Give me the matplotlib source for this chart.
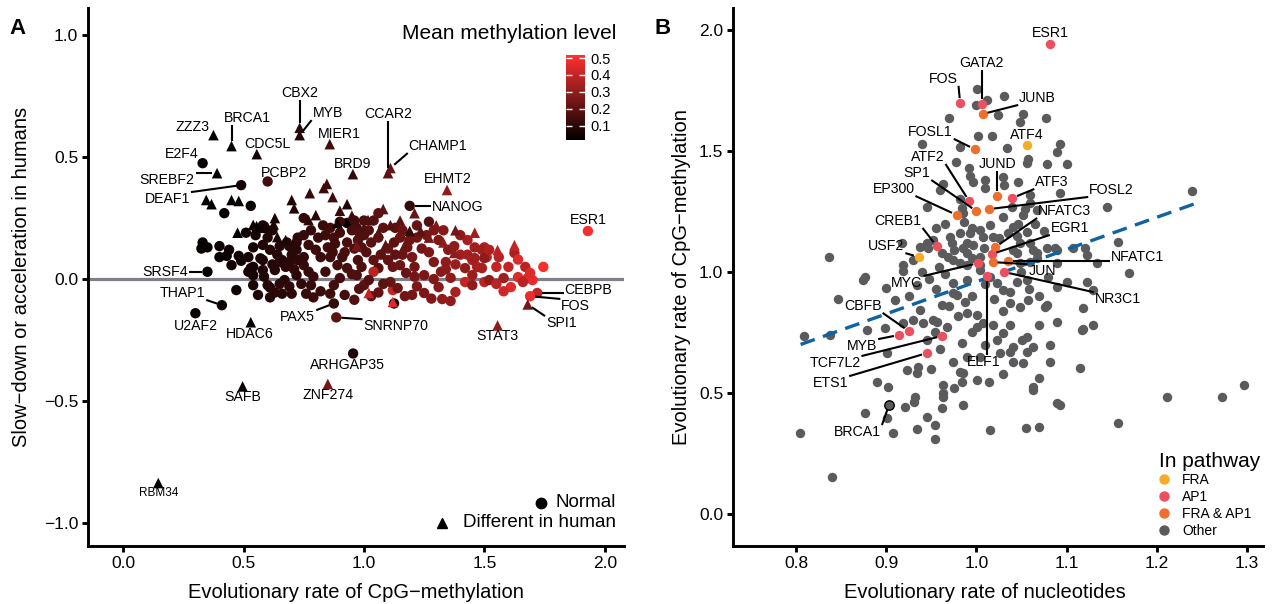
import numpy as np
import matplotlib
matplotlib.use("Agg")
import matplotlib.pyplot as plt
from matplotlib.colors import LinearSegmentedColormap, Normalize
from matplotlib.cm import ScalarMappable
from matplotlib.lines import Line2D

plt.rcParams['font.family'] = ['Liberation Sans', 'DejaVu Sans']

# ---------------- panel A data ----------------
# labelled genes: rate of CpG-methylation, slow-down/acceleration, mean methylation, different in human
a_lab_gene = ['ZZZ3', 'BRCA1', 'CDC5L', 'CBX2', 'MYB', 'MIER1', 'E2F4', 'SREBF2', 'DEAF1', 'PCBP2',
              'BRD9', 'SRSF4', 'THAP1', 'U2AF2', 'HDAC6', 'PAX5', 'SNRNP70', 'ARHGAP35', 'SAFB', 'ZNF274',
              'CCAR2', 'CHAMP1', 'EHMT2', 'NANOG', 'ESR1', 'CEBPB', 'FOS', 'SPI1', 'STAT3', 'RBM34']
a_lab_rate = [0.375, 0.45, 0.555, 0.733, 0.733, 0.858, 0.33, 0.39, 0.49, 0.60,
              0.954, 0.35, 0.41, 0.30, 0.53, 0.875, 0.885, 0.955, 0.496, 0.85,
              1.10, 1.11, 1.345, 1.19, 1.93, 1.72, 1.69, 1.68, 1.555, 0.146]
a_lab_accel = [0.59, 0.545, 0.512, 0.62, 0.59, 0.553, 0.475, 0.434, 0.385, 0.40,
               0.43, 0.03, -0.107, -0.14, -0.177, -0.10, -0.157, -0.305, -0.44, -0.43,
               0.434, 0.455, 0.365, 0.30, 0.197, -0.057, -0.07, -0.104, -0.19, -0.836]
a_lab_meth = [0.02, 0.02, 0.05, 0.10, 0.08, 0.15, 0.03, 0.02, 0.05, 0.15,
              0.12, 0.03, 0.04, 0.03, 0.03, 0.12, 0.20, 0.08, 0.03, 0.25,
              0.20, 0.22, 0.30, 0.12, 0.50, 0.40, 0.48, 0.25, 0.30, 0.03]
a_lab_human = [1, 1, 1, 1, 1, 1, 0, 1, 0, 0,
               1, 0, 0, 0, 1, 0, 0, 0, 1, 1,
               1, 1, 1, 0, 0, 0, 0, 1, 1, 1]

# other genes, normal
a_norm_rate = [0.53, 0.42, 0.33, 0.35, 0.325, 0.40, 0.44, 0.43, 0.40, 0.48, 0.49, 0.52, 0.54, 0.54, 0.52,
               0.57, 0.51, 0.58, 0.55, 0.60, 0.62, 0.58, 0.61, 0.65, 0.69, 0.72, 0.58, 0.66, 0.675, 0.58,
               0.585, 0.60, 0.47, 0.54, 0.56, 0.61, 0.63, 0.66, 0.70, 0.61, 0.75, 0.93, 0.96, 1.00, 1.04,
               0.90, 0.97, 1.06, 1.27, 0.68, 0.725, 0.75, 0.77, 0.81, 0.84, 0.875, 0.90, 0.93, 0.85, 0.88,
               0.92, 0.96, 0.975, 1.00, 1.03, 1.06, 1.10, 1.125, 1.15, 1.18, 1.20, 1.24, 1.27, 1.31, 1.35,
               1.43, 1.46, 1.50, 1.51, 1.375, 1.49, 0.45, 0.53, 0.54, 0.65, 0.69, 0.725, 0.75, 0.75, 0.77,
               0.79, 0.86, 0.89, 0.93, 0.975, 0.99, 1.04, 1.06, 1.10, 1.12, 1.15, 1.175, 1.21, 1.25, 1.29,
               1.32, 1.36, 1.42, 1.45, 1.49, 1.04, 1.42, 0.78, 0.82, 0.79, 0.875, 0.92, 0.96, 1.00, 1.06,
               1.12, 1.11, 1.14, 1.125, 1.20, 1.25, 1.31, 1.38, 1.45, 1.50, 1.325, 1.45, 1.625, 1.64, 1.67,
               1.745, 1.64, 1.68, 1.70, 1.58, 1.61, 1.52, 1.66, 1.50, 1.46, 1.52, 1.69, 1.13, 1.22, 1.40,
               0.84, 0.90, 0.97, 1.02, 0.72, 0.67, 0.63,
               0.95, 0.98, 1.02, 1.08, 1.16, 1.19, 1.22, 1.26, 1.29, 1.33, 1.34, 1.38, 1.40, 1.43, 1.47,
               1.55, 1.56, 1.60, 1.58, 1.55, 1.36, 1.28, 1.22, 1.17, 1.08, 1.03, 0.98, 0.95, 0.91, 0.87,
               0.82, 0.80, 0.78, 0.83, 0.86, 0.72, 0.70, 0.64, 0.62, 0.71, 0.74, 0.69, 0.65, 0.76, 0.86,
               1.16, 1.13, 1.07, 1.01, 0.99, 1.21, 1.29, 1.34]
a_norm_accel = [0.30, 0.27, 0.15, 0.13, 0.125, 0.135, 0.12, 0.095, 0.09, 0.095, 0.075, 0.09, 0.13, 0.05, 0.03,
                0.085, 0.19, 0.22, 0.18, 0.17, 0.20, 0.14, 0.12, 0.135, 0.135, 0.15, 0.078, 0.078, 0.05, 0.037,
                0.01, -0.025, -0.045, -0.025, -0.065, -0.035, -0.055, -0.06, -0.06, -0.075, 0.25, 0.23, 0.24, 0.24, 0.24,
                0.235, 0.21, 0.27, 0.235, 0.15, 0.17, 0.18, 0.14, 0.17, 0.18, 0.17, 0.19, 0.15, 0.13, 0.145,
                0.11, 0.125, 0.16, 0.18, 0.15, 0.17, 0.125, 0.15, 0.17, 0.13, 0.09, 0.125, 0.11, 0.16, 0.12,
                0.16, 0.13, 0.13, 0.09, 0.135, 0.12, 0.057, 0.045, 0.016, 0.07, 0.07, 0.078, 0.09, 0.057, 0.03,
                0.01, 0.09, 0.057, 0.045, 0.078, 0.05, 0.078, 0.045, 0.078, 0.05, 0.057, 0.025, 0.05, 0.016, 0.07,
                0.03, 0.005, 0.045, 0.016, 0.045, 0.03, -0.012, -0.025, -0.05, -0.075, -0.025, -0.065, -0.085, -0.025, -0.055,
                -0.045, -0.012, -0.037, -0.10, -0.065, -0.057, -0.033, -0.053, -0.025, -0.012, -0.082, 0.078, 0.107, 0.08, 0.05,
                0.05, 0.008, 0.004, -0.004, 0.004, -0.033, -0.004, -0.012, 0.086, 0.086, 0.12, 0.025, 0.21, 0.22, 0.18,
                0.03, 0.004, 0.016, -0.004, 0.016, -0.004, 0.037,
                0.20, 0.19, 0.20, 0.21, 0.20, 0.16, 0.17, 0.18, 0.20, 0.20, 0.07, 0.06, 0.10, 0.10, 0.05,
                0.05, 0.09, 0.05, -0.05, -0.02, -0.09, -0.08, -0.03, -0.07, -0.02, -0.07, -0.04, 0.02, 0.09, 0.11,
                0.09, 0.12, 0.20, 0.22, 0.21, 0.12, 0.10, 0.10, 0.06, 0.04, -0.02, -0.03, -0.02, -0.06, -0.06,
                0.10, 0.10, 0.10, 0.11, 0.13, 0.01, 0.0, 0.04]
a_norm_meth = [0.04, 0.03, 0.03, 0.03, 0.03, 0.04, 0.04, 0.04, 0.03, 0.05, 0.05, 0.06, 0.06, 0.06, 0.06,
               0.07, 0.05, 0.07, 0.06, 0.08, 0.08, 0.08, 0.09, 0.09, 0.10, 0.10, 0.08, 0.10, 0.10, 0.08,
               0.08, 0.09, 0.05, 0.07, 0.08, 0.09, 0.10, 0.10, 0.11, 0.09, 0.12, 0.02, 0.15, 0.17, 0.18,
               0.14, 0.15, 0.20, 0.18, 0.11, 0.11, 0.12, 0.13, 0.13, 0.14, 0.15, 0.14, 0.16, 0.15, 0.14,
               0.16, 0.17, 0.18, 0.17, 0.19, 0.20, 0.22, 0.20, 0.22, 0.23, 0.25, 0.24, 0.26, 0.27, 0.28,
               0.35, 0.33, 0.36, 0.40, 0.30, 0.33, 0.05, 0.06, 0.06, 0.09, 0.10, 0.11, 0.11, 0.12, 0.12,
               0.13, 0.14, 0.15, 0.16, 0.16, 0.17, 0.20, 0.19, 0.21, 0.22, 0.23, 0.22, 0.24, 0.26, 0.27,
               0.28, 0.30, 0.30, 0.32, 0.34, 0.38, 0.40, 0.12, 0.13, 0.13, 0.15, 0.15, 0.18, 0.20, 0.21,
               0.40, 0.22, 0.23, 0.05, 0.25, 0.26, 0.28, 0.35, 0.30, 0.38, 0.30, 0.35, 0.35, 0.45, 0.38,
               0.50, 0.45, 0.45, 0.47, 0.33, 0.45, 0.30, 0.38, 0.30, 0.33, 0.36, 0.45, 0.20, 0.22, 0.30,
               0.14, 0.15, 0.17, 0.18, 0.10, 0.09, 0.09,
               0.16, 0.17, 0.18, 0.20, 0.22, 0.23, 0.24, 0.25, 0.26, 0.28, 0.30, 0.32, 0.33, 0.34, 0.35,
               0.40, 0.38, 0.40, 0.42, 0.38, 0.30, 0.27, 0.26, 0.24, 0.20, 0.20, 0.18, 0.17, 0.15, 0.14,
               0.13, 0.13, 0.12, 0.13, 0.14, 0.10, 0.10, 0.09, 0.09, 0.11, 0.11, 0.11, 0.10, 0.12, 0.14,
               0.22, 0.21, 0.20, 0.18, 0.17, 0.25, 0.27, 0.29]

# other genes, different in human
a_diff_rate = [0.345, 0.367, 0.45, 0.48, 0.70, 0.71, 0.775, 0.833, 0.846, 0.87, 0.93, 0.63, 0.554, 0.475, 0.58,
               0.60, 0.80, 0.77, 1.08, 1.017, 1.19, 1.235, 1.38, 1.11, 0.89, 0.675, 0.64, 1.555, 1.625, 1.375,
               1.02, 1.12, 0.97, 1.09, 1.17,
               0.54, 0.625, 1.00, 1.06, 1.15, 1.27, 1.30, 0.90, 0.95, 1.21, 1.46, 1.33]
a_diff_accel = [0.324, 0.307, 0.324, 0.32, 0.324, 0.29, 0.352, 0.373, 0.39, 0.336, 0.307, 0.25, 0.217, 0.19, 0.21,
                0.213, 0.262, 0.242, 0.287, 0.242, 0.197, 0.197, 0.20, 0.221, 0.23, 0.16, 0.172, 0.119, 0.139, 0.107,
                -0.057, -0.094, 0.135, 0.14, 0.14,
                0.222, 0.224, 0.21, 0.19, 0.24, 0.17, 0.22, 0.28, 0.26, 0.27, 0.19, 0.15]
a_diff_meth = [0.02, 0.02, 0.03, 0.03, 0.08, 0.08, 0.12, 0.13, 0.14, 0.14, 0.08, 0.06, 0.03, 0.02, 0.05,
               0.06, 0.10, 0.11, 0.20, 0.17, 0.12, 0.20, 0.25, 0.18, 0.05, 0.07, 0.07, 0.38, 0.40, 0.30,
               0.40, 0.45, 0.25, 0.20, 0.22,
               0.04, 0.07, 0.17, 0.19, 0.20, 0.25, 0.27, 0.12, 0.14, 0.22, 0.33, 0.30]

# ---------------- panel B data ----------------
b_lab_gene = ['ESR1', 'GATA2', 'JUNB', 'FOS', 'FOSL1', 'ATF4', 'ATF2', 'JUND', 'SP1', 'ATF3', 'FOSL2',
              'EP300', 'CREB1', 'USF2', 'NFATC3', 'EGR1', 'JUN', 'NFATC1', 'MYC', 'ELF1', 'NR3C1',
              'CBFB', 'MYB', 'TCF7L2', 'ETS1', 'BRCA1']
b_lab_nuc = [1.082, 1.006, 1.007, 0.982, 0.998, 1.056, 0.992, 1.023, 1.0, 1.04, 1.014,
             0.978, 0.956, 0.936, 1.021, 1.017, 1.018, 1.035, 1.002, 1.012, 1.031,
             0.925, 0.914, 0.962, 0.945, 0.903]
b_lab_cpg = [1.942, 1.694, 1.653, 1.698, 1.508, 1.525, 1.293, 1.314, 1.252, 1.306, 1.26,
             1.236, 1.107, 1.062, 1.103, 1.074, 1.041, 1.045, 1.037, 0.983, 1.0,
             0.756, 0.74, 0.736, 0.665, 0.45]
b_lab_path = ['AP1', 'AP1', 'FRA & AP1', 'AP1', 'FRA & AP1', 'FRA', 'AP1', 'FRA & AP1', 'FRA & AP1', 'AP1', 'FRA & AP1',
              'FRA & AP1', 'AP1', 'FRA', 'FRA & AP1', 'AP1', 'FRA & AP1', 'FRA & AP1', 'AP1', 'AP1', 'AP1',
              'AP1', 'AP1', 'AP1', 'AP1', 'Other']

b_other_nuc = [1.001, 1.012, 1.0, 1.031, 1.024, 1.052, 1.048, 1.077, 0.97, 1.002, 1.017, 0.982, 1.034, 0.94, 1.093,
               1.09, 1.057, 1.056, 1.078, 1.1, 0.977, 0.992, 0.996, 0.993, 1.01, 1.03, 1.031, 1.046, 1.01, 0.982,
               0.963, 1.059, 1.054, 1.039, 1.03, 0.984, 0.986, 0.995, 1.004, 1.015, 1.018, 1.041, 1.056, 0.971, 0.973,
               0.952, 0.946, 0.969, 0.99, 0.982, 1.004, 1.041, 1.067, 1.078, 1.087, 0.837, 0.876, 0.919, 0.919, 0.96,
               0.945, 1.059, 1.052, 0.985, 1.046, 1.093, 1.067, 1.145, 0.993, 1.007, 0.945, 0.996, 1.004, 1.048, 1.067,
               1.059, 1.089, 1.107, 1.12, 1.134, 0.809, 0.804, 0.84, 1.157, 1.055, 1.07, 1.297, 1.272, 1.239, 1.169,
               1.157, 1.211, 1.115, 1.129, 1.118, 1.118, 0.847, 0.9, 0.91, 0.838, 0.879, 0.899, 0.901, 0.89, 0.902,
               0.876, 0.901, 0.908, 0.934, 0.932, 0.921, 0.945, 0.954, 0.934, 0.954, 0.963, 0.963, 0.962, 0.985, 1.015,
               0.974, 0.985, 1.001, 1.014, 0.984, 1.001, 1.018, 1.037, 1.023, 1.037, 1.051, 1.056, 1.052, 1.063, 1.07,
               1.093, 1.082, 1.089, 1.076, 1.057, 1.048, 1.037, 1.056, 1.063, 1.1, 1.123, 1.129, 0.962, 0.937, 0.934,
               0.978, 0.974, 0.99, 0.987, 1.001, 0.952, 0.941, 0.954, 0.919, 0.93, 0.918, 0.937, 0.962, 0.982, 0.99,
               0.974, 0.99, 1.004, 1.015, 1.023, 1.029, 1.048, 1.045, 1.089, 0.874, 0.974, 0.995, 1.037, 1.078, 1.123,
               1.117, 1.041, 1.063, 1.082, 1.09, 0.963, 0.931, 0.923, 0.935, 0.956, 0.967, 0.99, 1.007, 1.03, 1.056,
               1.026, 0.99, 0.984, 1.041, 1.004, 0.982, 1.063,
               0.955, 0.965, 0.975, 0.985, 0.995, 1.008, 1.025, 1.035, 1.045, 1.06, 1.065, 1.075, 0.958, 0.965, 0.948,
               0.955, 0.97, 0.98, 0.995, 1.01, 1.02, 1.03, 1.045, 1.05, 1.058, 1.07, 1.08, 1.09, 0.93, 0.94,
               0.925, 0.945, 0.96, 1.01, 1.07, 0.975, 1.03, 0.95]
b_other_cpg = [1.756, 1.711, 1.69, 1.727, 1.649, 1.653, 1.62, 1.636, 1.636, 1.562, 1.562, 1.517, 1.512, 1.529, 1.529,
               1.496, 1.467, 1.45, 1.446, 1.446, 1.455, 1.43, 1.372, 1.397, 1.38, 1.393, 1.36, 1.372, 1.347, 1.302,
               1.364, 1.285, 1.26, 1.269, 1.228, 1.264, 1.207, 1.182, 1.174, 1.194, 1.145, 1.186, 1.165, 1.145, 1.12,
               1.132, 1.099, 1.062, 1.079, 1.037, 1.062, 1.091, 1.058, 1.099, 1.099, 1.062, 0.979, 1.029, 1.004, 1.339,
               1.269, 1.318, 1.235, 1.244, 1.2, 1.326, 1.256, 1.269, 1.161, 1.145, 1.12, 1.112, 1.029, 1.12, 1.079,
               1.041, 1.037, 1.099, 1.099, 1.037, 0.736, 0.335, 0.153, 0.376, 0.355, 0.36, 0.533, 0.483, 1.335, 0.996,
               1.124, 0.483, 0.603, 0.781, 0.764, 0.851, 0.888, 0.934, 0.884, 0.74, 0.76, 0.769, 0.665, 0.545, 0.525,
               0.417, 0.397, 0.335, 0.583, 0.483, 0.442, 0.401, 0.368, 0.351, 0.31, 0.483, 0.533, 0.438, 0.45, 0.347,
               0.628, 0.583, 0.554, 0.545, 0.707, 0.773, 0.781, 0.781, 0.719, 0.669, 0.719, 0.669, 0.624, 0.525, 0.562,
               0.45, 0.628, 0.793, 0.855, 0.884, 0.855, 0.917, 0.967, 1.091, 0.959, 1.07, 0.926, 0.864, 0.843, 0.946,
               0.905, 0.955, 0.967, 0.876, 0.822, 0.802, 0.789, 0.752, 0.789, 0.802, 1.12, 1.103, 1.079, 1.161, 1.12,
               1.05, 1.029, 1.008, 0.979, 0.955, 0.926, 1.037, 1.079, 1.091, 0.967, 0.913, 0.752, 0.872, 0.864, 0.959,
               0.76, 0.628, 0.512, 0.698, 0.459, 0.5, 0.463, 0.595, 0.607, 0.793, 0.773, 0.831, 0.789, 0.748, 0.731,
               0.665, 0.649, 0.545, 0.69, 0.649, 0.587, 0.69,
               1.18, 1.2, 1.09, 1.1, 1.06, 1.1, 1.14, 1.16, 1.15, 1.12, 1.2, 1.17, 1.02, 0.99, 0.97,
               0.93, 0.86, 0.82, 0.9, 0.95, 0.89, 0.84, 0.96, 1.0, 0.93, 0.9, 0.98, 0.94, 1.05, 1.0,
               0.9, 0.72, 0.68, 0.7, 0.78, 0.52, 0.58, 0.6]

# dashed trend line (slope, intercept, x range)
b_fit_slope = 1.33
b_fit_icpt = -0.37
b_fit_range = [0.805, 1.245]

# ---------------- label layout ----------------
a_label_xy = {'ZZZ3': (0.29, 0.623), 'BRCA1': (0.517, 0.66), 'CDC5L': (0.60, 0.553), 'CBX2': (0.733, 0.762),
              'MYB': (0.85, 0.68), 'MIER1': (0.90, 0.594), 'E2F4': (0.242, 0.512), 'SREBF2': (0.183, 0.406),
              'DEAF1': (0.183, 0.328), 'PCBP2': (0.667, 0.434), 'BRD9': (0.954, 0.471), 'SRSF4': (0.175, 0.029),
              'THAP1': (0.246, -0.057), 'U2AF2': (0.30, -0.193), 'HDAC6': (0.525, -0.225), 'PAX5': (0.725, -0.156),
              'SNRNP70': (1.133, -0.193), 'ARHGAP35': (0.933, -0.352), 'SAFB': (0.496, -0.484),
              'ZNF274': (0.85, -0.475), 'CCAR2': (1.10, 0.676), 'CHAMP1': (1.308, 0.545), 'EHMT2': (1.346, 0.41),
              'NANOG': (1.39, 0.295), 'ESR1': (1.93, 0.242), 'CEBPB': (1.933, -0.045), 'FOS': (1.88, -0.11),
              'SPI1': (1.82, -0.18), 'STAT3': (1.555, -0.234), 'RBM34': (0.146, -0.877)}
a_seg = {'BRCA1', 'CBX2', 'MYB', 'SREBF2', 'DEAF1', 'SRSF4', 'THAP1', 'PAX5', 'SNRNP70',
         'CCAR2', 'CHAMP1', 'NANOG', 'CEBPB', 'FOS', 'SPI1'}

b_label_xy = {'ESR1': (1.082, 1.988), 'GATA2': (1.006, 1.864), 'JUNB': (1.068, 1.719), 'FOS': (0.963, 1.798),
              'FOSL1': (0.949, 1.579), 'ATF4': (1.056, 1.566), 'ATF2': (0.946, 1.475), 'JUND': (1.023, 1.446),
              'SP1': (0.934, 1.409), 'ATF3': (1.084, 1.372), 'FOSL2': (1.15, 1.339), 'EP300': (0.908, 1.343),
              'NFATC3': (1.098, 1.252), 'CREB1': (0.913, 1.211), 'EGR1': (1.104, 1.182), 'USF2': (0.90, 1.107),
              'NFATC1': (1.179, 1.062), 'JUN': (1.073, 1.004), 'MYC': (0.923, 0.955), 'NR3C1': (1.157, 0.888),
              'CBFB': (0.874, 0.86), 'MYB': (0.873, 0.694), 'TCF7L2': (0.843, 0.624), 'ELF1': (1.008, 0.628),
              'ETS1': (0.838, 0.541), 'BRCA1': (0.868, 0.339)}
b_seg = set(b_lab_gene) - {'ESR1', 'ATF4'}

path_colors = {'FRA': '#F8AA2A', 'AP1': '#EC5060', 'FRA & AP1': '#EE6F2C', 'Other': '#5B5B5D'}

W, H = 1274, 604
fig = plt.figure(figsize=(W / 100, H / 100), dpi=100)
axA = fig.add_axes([88 / W, 1 - 546 / H, (624 - 88) / W, (546 - 8) / H])
axB = fig.add_axes([733 / W, 1 - 546 / H, (1263 - 733) / W, (546 - 8) / H])

for ax in (axA, axB):
    for s in ('top', 'right'):
        ax.spines[s].set_visible(False)
    for s in ('left', 'bottom'):
        ax.spines[s].set_linewidth(2.1)
    ax.tick_params(direction='out', length=4, width=2.1, labelsize=12.5, colors='black', pad=3)


def add_labels(ax, names, xs, ys, pos, seg, size=10.2):
    texts = []
    for n, x, y in zip(names, xs, ys):
        tx, ty = pos[n]
        fs = 8.5 if n == 'RBM34' and ax is axA else size
        t = ax.text(tx, ty, n, ha='center', va='center', fontsize=fs, zorder=6)
        texts.append((t, x, y, n in seg))
    fig.canvas.draw()
    r = fig.canvas.get_renderer()
    inv = ax.transData.inverted()
    for t, x, y, s in texts:
        if not s:
            continue
        bb = t.get_window_extent(r).expanded(1.0, 0.85)
        px, py = ax.transData.transform((x, y))
        cx = min(max(px, bb.x0 - 1), bb.x1 + 1)
        cy = min(max(py, bb.y0 - 1), bb.y1 + 1)
        d = np.hypot(px - cx, py - cy)
        if d < 1:
            continue
        ex = px - (px - cx) / d * 5
        ey = py - (py - cy) / d * 5
        p0 = inv.transform((cx, cy))
        p1 = inv.transform((ex, ey))
        ax.plot([p0[0], p1[0]], [p0[1], p1[1]], color='black', lw=1.5, zorder=5,
                solid_capstyle='butt')


# ---------------- panel A ----------------
cmap = LinearSegmentedColormap.from_list('meth', ['#000000', '#FF3030'])
norm = Normalize(0.016, 0.518)

axA.set_xlim(-0.146, 2.08)
axA.set_ylim(-1.094, 1.111)
axA.axhline(0, color='#7F7F85', lw=2.3, zorder=1)
axA.scatter(a_norm_rate, a_norm_accel, c=a_norm_meth, cmap=cmap, norm=norm, marker='o', s=56, lw=0, zorder=2)
axA.scatter(a_diff_rate, a_diff_accel, c=a_diff_meth, cmap=cmap, norm=norm, marker='^', s=58, lw=0, zorder=2)
lab_h = np.array(a_lab_human, dtype=bool)
lr, la, lm = np.array(a_lab_rate), np.array(a_lab_accel), np.array(a_lab_meth)
axA.scatter(lr[~lab_h], la[~lab_h], c=lm[~lab_h], cmap=cmap, norm=norm, marker='o', s=56, lw=0, zorder=3)
axA.scatter(lr[lab_h], la[lab_h], c=lm[lab_h], cmap=cmap, norm=norm, marker='^', s=58, lw=0, zorder=3)

axA.set_xticks([0, 0.5, 1.0, 1.5, 2.0])
axA.set_xticklabels(['0.0', '0.5', '1.0', '1.5', '2.0'])
axA.set_yticks([-1.0, -0.5, 0.0, 0.5, 1.0])
axA.set_yticklabels(['\u22121.0', '\u22120.5', '0.0', '0.5', '1.0'])

add_labels(axA, a_lab_gene, a_lab_rate, a_lab_accel, a_label_xy, a_seg)

# colour bar legend
axA.text(0.985, 0.953, 'Mean methylation level', transform=axA.transAxes, ha='right', va='center', fontsize=15)
cax = fig.add_axes([566 / W, 1 - 140 / H, 19 / W, 85 / H])
cb = fig.colorbar(ScalarMappable(norm=norm, cmap=cmap), cax=cax, ticks=[0.1, 0.2, 0.3, 0.4, 0.5])
cb.outline.set_visible(False)
cb.set_ticklabels(['0.1', '0.2', '0.3', '0.4', '0.5'])
cax.yaxis.set_ticks_position('both')
cax.tick_params(axis='y', direction='in', length=4, width=1, color='white', labelcolor='black',
                labelsize=10.5, pad=4, labelleft=False, labelright=True)

# shape legend
axA.plot([0.846], [0.080], marker='o', color='black', ms=7.5, ls='', transform=axA.transAxes, clip_on=False)
axA.text(0.985, 0.080, 'Normal', transform=axA.transAxes, ha='right', va='center', fontsize=13.5)
axA.plot([0.661], [0.043], marker='^', color='black', ms=7, ls='', transform=axA.transAxes, clip_on=False)
axA.text(0.985, 0.043, 'Different in human', transform=axA.transAxes, ha='right', va='center', fontsize=13.5)

# ---------------- panel B ----------------
axB.set_xlim(0.730, 1.318)
axB.set_ylim(-0.132, 2.091)
axB.scatter(b_other_nuc, b_other_cpg, color=path_colors['Other'], s=46, lw=0, zorder=2)
fx = np.array(b_fit_range)
axB.plot(fx, b_fit_slope * fx + b_fit_icpt, color='#0E63A0', lw=2.4, ls=(0, (4.5, 2.6)), zorder=3)
bn, bc, bp = np.array(b_lab_nuc), np.array(b_lab_cpg), np.array(b_lab_path)
m = bp == 'Other'
axB.scatter(bn[m], bc[m], color=path_colors['Other'], s=46, edgecolors='black', lw=1.0, zorder=4)
for grp in ['FRA', 'AP1', 'FRA & AP1']:
    m = bp == grp
    axB.scatter(bn[m], bc[m], color=path_colors[grp], s=46, lw=0, zorder=4)

axB.set_xticks([0.8, 0.9, 1.0, 1.1, 1.2, 1.3])
axB.set_xticklabels(['0.8', '0.9', '1.0', '1.1', '1.2', '1.3'])
axB.set_yticks([0.0, 0.5, 1.0, 1.5, 2.0])
axB.set_yticklabels(['0.0', '0.5', '1.0', '1.5', '2.0'])

add_labels(axB, b_lab_gene, b_lab_nuc, b_lab_cpg, b_label_xy, b_seg)

handles = [Line2D([], [], marker='o', ls='', color=path_colors[g], ms=6.5)
           for g in ['FRA', 'AP1', 'FRA & AP1', 'Other']]
leg = axB.legend(handles, ['FRA', 'AP1', 'FRA & AP1', 'Other'], title='In pathway', loc='lower right',
                 bbox_to_anchor=(1.01, 0.0), frameon=False, fontsize=10, title_fontsize=15,
                 handlelength=0.8, handletextpad=0.9, labelspacing=0.2, borderaxespad=0.2,
                 alignment='left')

# ---------------- axis titles & panel letters ----------------
fig.text(22 / W, 1 - 277 / H, 'Slow\u2212down or acceleration in humans', rotation=90,
         ha='center', va='center', fontsize=14.5)
fig.text(356 / W, 1 - 592 / H, 'Evolutionary rate of CpG\u2212methylation', ha='center', va='center', fontsize=14.5)
fig.text(682 / W, 1 - 277 / H, 'Evolutionary rate of CpG\u2212methylation', rotation=90,
         ha='center', va='center', fontsize=14.5)
fig.text(985 / W, 1 - 592 / H, 'Evolutionary rate of nucleotides', ha='center', va='center', fontsize=14.5)
fig.text(17 / W, 1 - 28 / H, 'A', ha='center', va='center', fontsize=16, fontweight='bold')
fig.text(663 / W, 1 - 28 / H, 'B', ha='center', va='center', fontsize=16, fontweight='bold')

fig.savefig('out.png', dpi=100)
